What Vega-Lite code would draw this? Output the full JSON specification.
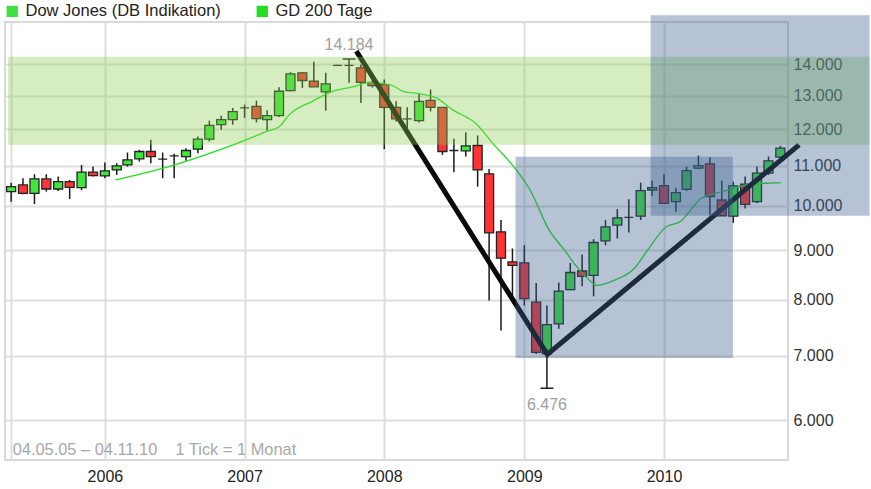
{
  "$schema": "https://vega.github.io/schema/vega-lite/v6.json",
  "width": 783,
  "height": 438,
  "autosize": {"type": "none"},
  "padding": {"left": 5, "top": 22, "right": 83, "bottom": 29},
  "background": "white",
  "config": {
    "view": {"stroke": "#d9d9d9", "strokeWidth": 2},
    "font": "Liberation Sans",
    "axis": {"gridColor": "#dedede", "gridWidth": 2, "domain": false, "ticks": false, "title": null, "labelFont": "Liberation Sans", "labelFontSize": 16}
  },
  "datasets": {
    "candles": [
      {"d":"2005-05-01","o":10342,"h":10567,"l":10098,"c":10466},
      {"d":"2005-06-01","o":10509,"h":10678,"l":10280,"c":10303},
      {"d":"2005-07-01","o":10303,"h":10781,"l":10043,"c":10660},
      {"d":"2005-08-01","o":10660,"h":10781,"l":10342,"c":10409},
      {"d":"2005-09-01","o":10409,"h":10720,"l":10360,"c":10592},
      {"d":"2005-10-01","o":10592,"h":10635,"l":10163,"c":10451},
      {"d":"2005-11-01","o":10441,"h":11024,"l":10384,"c":10833},
      {"d":"2005-12-01","o":10833,"h":10980,"l":10720,"c":10745},
      {"d":"2006-01-01","o":10738,"h":11084,"l":10678,"c":10867},
      {"d":"2006-02-01","o":10893,"h":11068,"l":10763,"c":10998},
      {"d":"2006-03-01","o":11024,"h":11352,"l":10980,"c":11156},
      {"d":"2006-04-01","o":11183,"h":11426,"l":11110,"c":11380},
      {"d":"2006-05-01","o":11380,"h":11703,"l":11068,"c":11244},
      {"d":"2006-06-01","o":11175,"h":11352,"l":10678,"c":11175},
      {"d":"2006-07-01","o":11265,"h":11317,"l":10678,"c":11265},
      {"d":"2006-08-01","o":11244,"h":11472,"l":11135,"c":11407},
      {"d":"2006-09-01","o":11445,"h":11796,"l":11336,"c":11722},
      {"d":"2006-10-01","o":11722,"h":12246,"l":11656,"c":12110},
      {"d":"2006-11-01","o":12130,"h":12394,"l":11986,"c":12276},
      {"d":"2006-12-01","o":12276,"h":12624,"l":12130,"c":12513},
      {"d":"2007-01-01","o":12624,"h":12724,"l":12327,"c":12624},
      {"d":"2007-02-01","o":12672,"h":12846,"l":12197,"c":12305},
      {"d":"2007-03-01","o":12276,"h":12552,"l":11966,"c":12394},
      {"d":"2007-04-01","o":12394,"h":13261,"l":12356,"c":13135},
      {"d":"2007-05-01","o":13157,"h":13746,"l":13135,"c":13693},
      {"d":"2007-06-01","o":13726,"h":13746,"l":13242,"c":13476},
      {"d":"2007-07-01","o":13453,"h":14091,"l":13274,"c":13274},
      {"d":"2007-08-01","o":13116,"h":13726,"l":12543,"c":13369},
      {"d":"2007-09-01","o":13967,"h":13990,"l":13945,"c":13967},
      {"d":"2007-10-01","o":13967,"h":14184,"l":13401,"c":13967},
      {"d":"2007-11-01","o":13890,"h":14000,"l":12776,"c":13418},
      {"d":"2007-12-01","o":13418,"h":13605,"l":13252,"c":13315},
      {"d":"2008-01-01","o":13347,"h":13508,"l":11445,"c":12641},
      {"d":"2008-02-01","o":12641,"h":12825,"l":12226,"c":12298},
      {"d":"2008-03-01","o":12298,"h":12641,"l":12034,"c":12298},
      {"d":"2008-04-01","o":12246,"h":13054,"l":12197,"c":12825},
      {"d":"2008-05-01","o":12856,"h":13188,"l":12521,"c":12641},
      {"d":"2008-06-01","o":12641,"h":12641,"l":11290,"c":11380},
      {"d":"2008-07-01","o":11407,"h":11731,"l":10833,"c":11407},
      {"d":"2008-08-01","o":11399,"h":11916,"l":11244,"c":11535},
      {"d":"2008-09-01","o":11544,"h":11824,"l":10466,"c":10893},
      {"d":"2008-10-01","o":10789,"h":10919,"l":7984,"c":9377},
      {"d":"2008-11-01","o":9399,"h":9666,"l":7431,"c":8827},
      {"d":"2008-12-01","o":8749,"h":9034,"l":7984,"c":8680},
      {"d":"2009-01-01","o":8728,"h":9104,"l":7888,"c":8016},
      {"d":"2009-02-01","o":7952,"h":8321,"l":7028,"c":7055},
      {"d":"2009-03-01","o":7028,"h":7888,"l":6476,"c":7538},
      {"d":"2009-04-01","o":7551,"h":8330,"l":7461,"c":8163},
      {"d":"2009-05-01","o":8191,"h":8728,"l":8177,"c":8532},
      {"d":"2009-06-01","o":8563,"h":8905,"l":8255,"c":8455},
      {"d":"2009-07-01","o":8475,"h":9237,"l":8060,"c":9164},
      {"d":"2009-08-01","o":9200,"h":9666,"l":9104,"c":9512},
      {"d":"2009-09-01","o":9551,"h":9923,"l":9252,"c":9719},
      {"d":"2009-10-01","o":9728,"h":10156,"l":9386,"c":9728},
      {"d":"2009-11-01","o":9758,"h":10567,"l":9666,"c":10367},
      {"d":"2009-12-01","o":10384,"h":10617,"l":10237,"c":10441},
      {"d":"2010-01-01","o":10492,"h":10781,"l":10059,"c":10059},
      {"d":"2010-02-01","o":10098,"h":10441,"l":9859,"c":10317},
      {"d":"2010-03-01","o":10401,"h":10980,"l":10360,"c":10875},
      {"d":"2010-04-01","o":10937,"h":11271,"l":10911,"c":11005},
      {"d":"2010-05-01","o":11050,"h":11228,"l":9781,"c":10219},
      {"d":"2010-06-01","o":10139,"h":10617,"l":9766,"c":9766},
      {"d":"2010-07-01","o":9758,"h":10592,"l":9603,"c":10484},
      {"d":"2010-08-01","o":10527,"h":10720,"l":9939,"c":10035},
      {"d":"2010-09-01","o":10098,"h":10980,"l":10059,"c":10807},
      {"d":"2010-10-01","o":10807,"h":11244,"l":10763,"c":11129},
      {"d":"2010-11-01","o":11228,"h":11535,"l":11203,"c":11472}
    ],
    "ma": [
      {"d":"2006-01-28","v":10635,"s":"GD 200 Tage"},
      {"d":"2006-05-24","v":10911,"s":"GD 200 Tage"},
      {"d":"2006-09-07","v":11245,"s":"GD 200 Tage"},
      {"d":"2006-12-02","v":11563,"s":"GD 200 Tage"},
      {"d":"2007-02-28","v":11937,"s":"GD 200 Tage"},
      {"d":"2007-04-02","v":12080,"s":"GD 200 Tage"},
      {"d":"2007-04-28","v":12424,"s":"GD 200 Tage"},
      {"d":"2007-06-27","v":12825,"s":"GD 200 Tage"},
      {"d":"2007-08-19","v":13135,"s":"GD 200 Tage"},
      {"d":"2007-10-10","v":13273,"s":"GD 200 Tage"},
      {"d":"2007-11-24","v":13411,"s":"GD 200 Tage"},
      {"d":"2008-01-16","v":13347,"s":"GD 200 Tage"},
      {"d":"2008-02-19","v":13135,"s":"GD 200 Tage"},
      {"d":"2008-04-03","v":13054,"s":"GD 200 Tage"},
      {"d":"2008-05-16","v":12929,"s":"GD 200 Tage"},
      {"d":"2008-06-27","v":12573,"s":"GD 200 Tage"},
      {"d":"2008-08-28","v":12159,"s":"GD 200 Tage"},
      {"d":"2008-10-10","v":11611,"s":"GD 200 Tage"},
      {"d":"2008-12-11","v":10893,"s":"GD 200 Tage"},
      {"d":"2009-01-16","v":10384,"s":"GD 200 Tage"},
      {"d":"2009-03-07","v":9437,"s":"GD 200 Tage"},
      {"d":"2009-04-16","v":8997,"s":"GD 200 Tage"},
      {"d":"2009-05-11","v":8721,"s":"GD 200 Tage"},
      {"d":"2009-06-15","v":8414,"s":"GD 200 Tage"},
      {"d":"2009-07-10","v":8275,"s":"GD 200 Tage"},
      {"d":"2009-08-24","v":8375,"s":"GD 200 Tage"},
      {"d":"2009-10-16","v":8618,"s":"GD 200 Tage"},
      {"d":"2009-11-19","v":8997,"s":"GD 200 Tage"},
      {"d":"2010-01-07","v":9512,"s":"GD 200 Tage"},
      {"d":"2010-02-11","v":9626,"s":"GD 200 Tage"},
      {"d":"2010-04-10","v":10187,"s":"GD 200 Tage"},
      {"d":"2010-06-20","v":10384,"s":"GD 200 Tage"},
      {"d":"2010-08-02","v":10509,"s":"GD 200 Tage"},
      {"d":"2010-09-24","v":10552,"s":"GD 200 Tage"},
      {"d":"2010-11-02","v":10567,"s":"GD 200 Tage"}
    ],
    "extremes": [
      {"d":"2007-10-01","v":14184},
      {"d":"2009-03-01","v":6476}
    ],
    "vline": [
      {"d":"2007-10-20","v":14452,"o":0},
      {"d":"2009-03-02","v":7020,"o":1},
      {"d":"2010-12-20","v":11563,"o":2}
    ],
    "band": [
      {"d":"2005-04-23","d2":"2011-06-22","v":14260,"v2":11563}
    ],
    "boxes": [
      {"d":"2008-12-09","d2":"2010-06-30","v":11236,"v2":6962},
      {"d":"2009-11-27","d2":"2011-06-22","v":15739,"v2":9766}
    ]
  },
  "layer": [
    {
      "data": {"name": "candles"},
      "mark": {"type": "rule", "color": "#1a1a1a", "strokeWidth": 1.5},
      "encoding": {
        "x": {
          "field": "d", "type": "temporal",
          "scale": {"type": "utc", "nice": false, "padding": 0, "domain": [{"year": 2005, "month": 4, "date": 15, "utc": true}, {"year": 2010, "month": 11, "date": 21, "utc": true}]},
          "axis": {
            "orient": "bottom", "grid": true, "labelColor": "#222", "labelPadding": 8, "labelOverlap": false, "labelFlush": false,
            "values": [
              {"year": 2005, "month": 5, "date": 1, "utc": true},
              {"year": 2006, "month": 1, "date": 1, "utc": true},
              {"year": 2007, "month": 1, "date": 1, "utc": true},
              {"year": 2008, "month": 1, "date": 1, "utc": true},
              {"year": 2009, "month": 1, "date": 1, "utc": true},
              {"year": 2010, "month": 1, "date": 1, "utc": true}
            ],
            "labelExpr": "utcyear(datum.value) < 2006 ? '' : utcFormat(datum.value, '%Y')"
          }
        },
        "y": {
          "field": "l", "type": "quantitative",
          "scale": {"type": "log", "nice": false, "zero": false, "padding": 0, "domain": [5460, 15490]},
          "axis": {
            "orient": "right", "grid": true, "labelColor": "#333", "labelPadding": 5, "labelOverlap": false, "labelFlush": false,
            "values": [6000, 7000, 8000, 9000, 10000, 11000, 12000, 13000, 14000],
            "labelExpr": "replace(format(datum.value, ','), ',', '.')"
          }
        },
        "y2": {"field": "h"}
      }
    },
    {
      "data": {"name": "candles"},
      "mark": {"type": "bar", "size": 9, "stroke": "#222", "strokeWidth": 1.3},
      "encoding": {
        "x": {"field": "d", "type": "temporal"},
        "y": {"field": "o", "type": "quantitative"},
        "y2": {"field": "c"},
        "fill": {"condition": {"test": "datum.c > datum.o", "value": "#3ee63e"}, "value": "#ff3333"}
      }
    },
    {
      "data": {"name": "extremes"},
      "mark": {"type": "bar", "size": 13, "stroke": "#222", "strokeWidth": 1.5, "fill": null},
      "encoding": {
        "x": {"field": "d", "type": "temporal"},
        "y": {"field": "v", "type": "quantitative"},
        "y2": {"field": "v"}
      }
    },
    {
      "data": {"name": "ma"},
      "mark": {"type": "line", "strokeWidth": 1.3, "interpolate": "monotone"},
      "encoding": {
        "x": {"field": "d", "type": "temporal"},
        "y": {"field": "v", "type": "quantitative"},
        "color": {
          "field": "s", "type": "nominal",
          "scale": {"domain": ["Dow Jones (DB Indikation)", "GD 200 Tage"], "range": ["#40e040", "#22dd22"]},
          "legend": {
            "orient": "none", "legendX": -1, "legendY": -19, "direction": "horizontal", "title": null,
            "symbolType": "square", "symbolSize": 100, "symbolStrokeColor": "#333", "symbolStrokeWidth": 1.2,
            "labelFontSize": 16.5, "labelColor": "#222", "labelFont": "Liberation Sans", "labelOffset": 5, "labelLimit": 400,
            "columnPadding": 33, "padding": 0, "offset": 0,
            "encode": {"symbols": {"update": {"fill": {"scale": "color", "field": "value"}, "stroke": {"value": "#222"}, "strokeWidth": {"value": 1.3}, "opacity": {"value": 1}}}}
          }
        }
      }
    },
    {
      "data": {"name": "vline"},
      "mark": {"type": "line", "color": "#0a0a0a", "strokeWidth": 5},
      "encoding": {
        "x": {"field": "d", "type": "temporal"},
        "y": {"field": "v", "type": "quantitative"},
        "order": {"field": "o"}
      }
    },
    {
      "data": {"name": "band"},
      "mark": {"type": "rect", "fill": "#8bcd4f", "opacity": 0.36},
      "encoding": {
        "x": {"field": "d", "type": "temporal"},
        "x2": {"field": "d2"},
        "y": {"field": "v", "type": "quantitative"},
        "y2": {"field": "v2"}
      }
    },
    {
      "data": {"name": "boxes"},
      "mark": {"type": "rect", "fill": "#3c6190", "opacity": 0.38},
      "encoding": {
        "x": {"field": "d", "type": "temporal"},
        "x2": {"field": "d2"},
        "y": {"field": "v", "type": "quantitative"},
        "y2": {"field": "v2"}
      }
    },
    {
      "data": {"values": [{"d":"2007-10-01","v":14184,"t":"14.184"}]},
      "mark": {"type": "text", "color": "#a0a0a0", "fontSize": 16, "font": "Liberation Sans", "baseline": "middle", "align": "center", "dy": -14},
      "encoding": {
        "x": {"field": "d", "type": "temporal"},
        "y": {"field": "v", "type": "quantitative"},
        "text": {"field": "t"}
      }
    },
    {
      "data": {"values": [{"d":"2009-03-01","v":6476,"t":"6.476"}]},
      "mark": {"type": "text", "color": "#a0a0a0", "fontSize": 16, "font": "Liberation Sans", "baseline": "middle", "align": "center", "dy": 17},
      "encoding": {
        "x": {"field": "d", "type": "temporal"},
        "y": {"field": "v", "type": "quantitative"},
        "text": {"field": "t"}
      }
    },
    {
      "data": {"values": [{"d":"2005-05-05","v":5592,"t":"04.05.05 – 04.11.10\u00a0\u00a0\u00a0 1 Tick = 1 Monat"}]},
      "mark": {"type": "text", "color": "#a8a8a8", "fontSize": 16.4, "font": "Liberation Sans", "baseline": "middle", "align": "left"},
      "encoding": {
        "x": {"field": "d", "type": "temporal"},
        "y": {"field": "v", "type": "quantitative"},
        "text": {"field": "t"}
      }
    }
  ]
}
